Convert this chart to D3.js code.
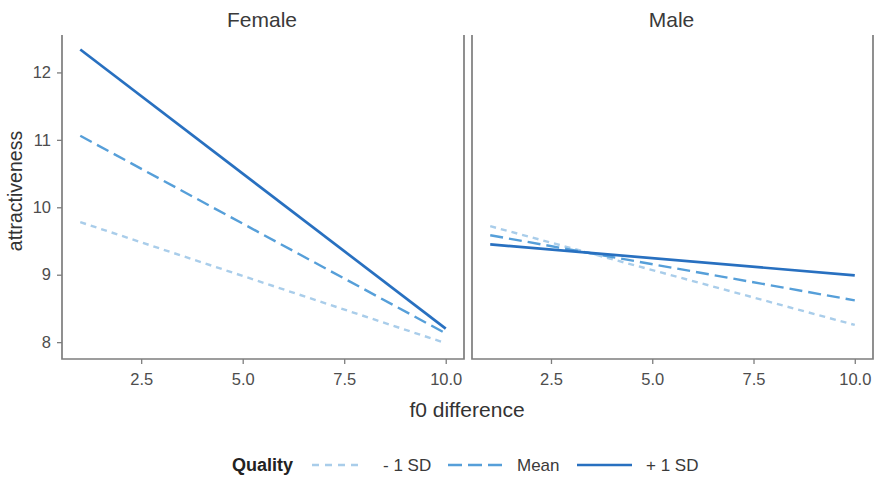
<!DOCTYPE html>
<html>
<head>
<meta charset="utf-8">
<script src="https://cdn.jsdelivr.net/npm/d3@7"></script>
<style>
  html, body { margin: 0; padding: 0; background: #fff; }
  svg { display: block; font-family: "Liberation Sans", Arial, sans-serif; }
</style>
</head>
<body>
<svg id="chart" width="875" height="479"></svg>
<script>
// Predicted attractiveness by f0 difference, split by speaker sex and voice quality level
const panels = ["Female", "Male"];
const f0Values = [1, 10];
const qualityLevels = ["- 1 SD", "Mean", "+ 1 SD"];
const femaleLow  = [9.78, 7.985];
const femaleMean = [11.06, 8.13];
const femaleHigh = [12.34, 8.20];
const maleLow    = [9.72, 8.255];
const maleMean   = [9.585, 8.62];
const maleHigh   = [9.45, 8.99];
const xTicks = [2.5, 5.0, 7.5, 10.0];
const yTicks = [8, 9, 10, 11, 12];

const seriesByPanel = {
  Female: [femaleLow, femaleMean, femaleHigh],
  Male: [maleLow, maleMean, maleHigh]
};

const colors = ["#a9cdea", "#569fd9", "#2870c0"];
const dashes = ["6,5", "13,6", null];
const widths = [2.4, 2.4, 2.7];
const axisColor = "#7d7d7d";
const textColor = "#4d4d4d";

const svg = d3.select("#chart");

const panelBoxes = [
  { left: 62, right: 464 },
  { left: 472, right: 873 }
];
const plotTop = 35, plotBottom = 359;

const y = d3.scaleLinear().domain([7.75, 12.555]).range([plotBottom, plotTop]);

panels.forEach((name, i) => {
  const box = panelBoxes[i];
  const x = d3.scaleLinear().domain([0.55, 10.45]).range([box.left, box.right]);
  const g = svg.append("g");

  // strip title
  g.append("text")
    .attr("x", (box.left + box.right) / 2 - 1)
    .attr("y", 27)
    .attr("text-anchor", "middle")
    .attr("font-size", 21)
    .attr("fill", "#3a3a3a")
    .text(name);

  // lines
  const line = d3.line().x((d, k) => x(f0Values[k])).y(d => y(d));
  seriesByPanel[name].forEach((vals, s) => {
    g.append("path")
      .datum(vals)
      .attr("d", line)
      .attr("fill", "none")
      .attr("stroke", colors[s])
      .attr("stroke-width", widths[s])
      .attr("stroke-dasharray", dashes[s])
      .attr("stroke-linecap", "butt");
  });

  // x axis
  const xAxis = g.append("g")
    .attr("transform", `translate(0,${plotBottom})`)
    .call(d3.axisBottom(x).tickValues(xTicks).tickFormat(d3.format(".1f")).tickSize(5).tickSizeOuter(0));
  xAxis.select(".domain").remove();
  xAxis.selectAll(".tick line").attr("stroke", axisColor).attr("stroke-width", 1.3);
  xAxis.selectAll(".tick text")
    .attr("font-size", 16.5).attr("fill", textColor).attr("y", 14).attr("dy", "0.71em")
    .attr("font-family", "Liberation Sans, Arial, sans-serif");

  // y axis ticks only for the first panel
  if (i === 0) {
    const yAxis = g.append("g")
      .attr("transform", `translate(${box.left},0)`)
      .call(d3.axisLeft(y).tickValues(yTicks).tickFormat(d3.format("d")).tickSize(5).tickSizeOuter(0));
    yAxis.select(".domain").remove();
    yAxis.selectAll(".tick line").attr("stroke", axisColor).attr("stroke-width", 1.3);
    yAxis.selectAll(".tick text")
      .attr("font-size", 16.5).attr("fill", textColor).attr("x", -11)
      .attr("font-family", "Liberation Sans, Arial, sans-serif");
  }

  // panel frame: left, bottom and right edges
  g.append("path")
    .attr("d", `M${box.left},${plotTop}V${plotBottom}H${box.right}V${plotTop}`)
    .attr("fill", "none")
    .attr("stroke", axisColor)
    .attr("stroke-width", 1.7);
});

// axis titles
svg.append("text")
  .attr("x", 467).attr("y", 417)
  .attr("text-anchor", "middle")
  .attr("font-size", 21).attr("fill", "#333")
  .text("f0 difference");

svg.append("text")
  .attr("transform", "translate(22,191) rotate(-90)")
  .attr("text-anchor", "middle")
  .attr("font-size", 19.5).attr("fill", "#333")
  .text("attractiveness");

// legend
const legend = svg.append("g").attr("transform", "translate(0,465)");
legend.append("text")
  .attr("x", 232).attr("y", 6)
  .attr("font-size", 18).attr("font-weight", "bold").attr("fill", "#222")
  .text("Quality");

const keyX = [312, 448, 577];
const keyW = [52, 56, 55];
const labelX = [383, 517, 646];
qualityLevels.forEach((lab, s) => {
  legend.append("line")
    .attr("x1", keyX[s]).attr("x2", keyX[s] + keyW[s])
    .attr("y1", 0).attr("y2", 0)
    .attr("stroke", colors[s])
    .attr("stroke-width", widths[s])
    .attr("stroke-dasharray", s === 0 ? "7,6" : s === 1 ? "14,6" : null);
  legend.append("text")
    .attr("x", labelX[s]).attr("y", 6)
    .attr("font-size", 17).attr("fill", "#3a3a3a")
    .text(lab);
});
</script>
</body>
</html>
